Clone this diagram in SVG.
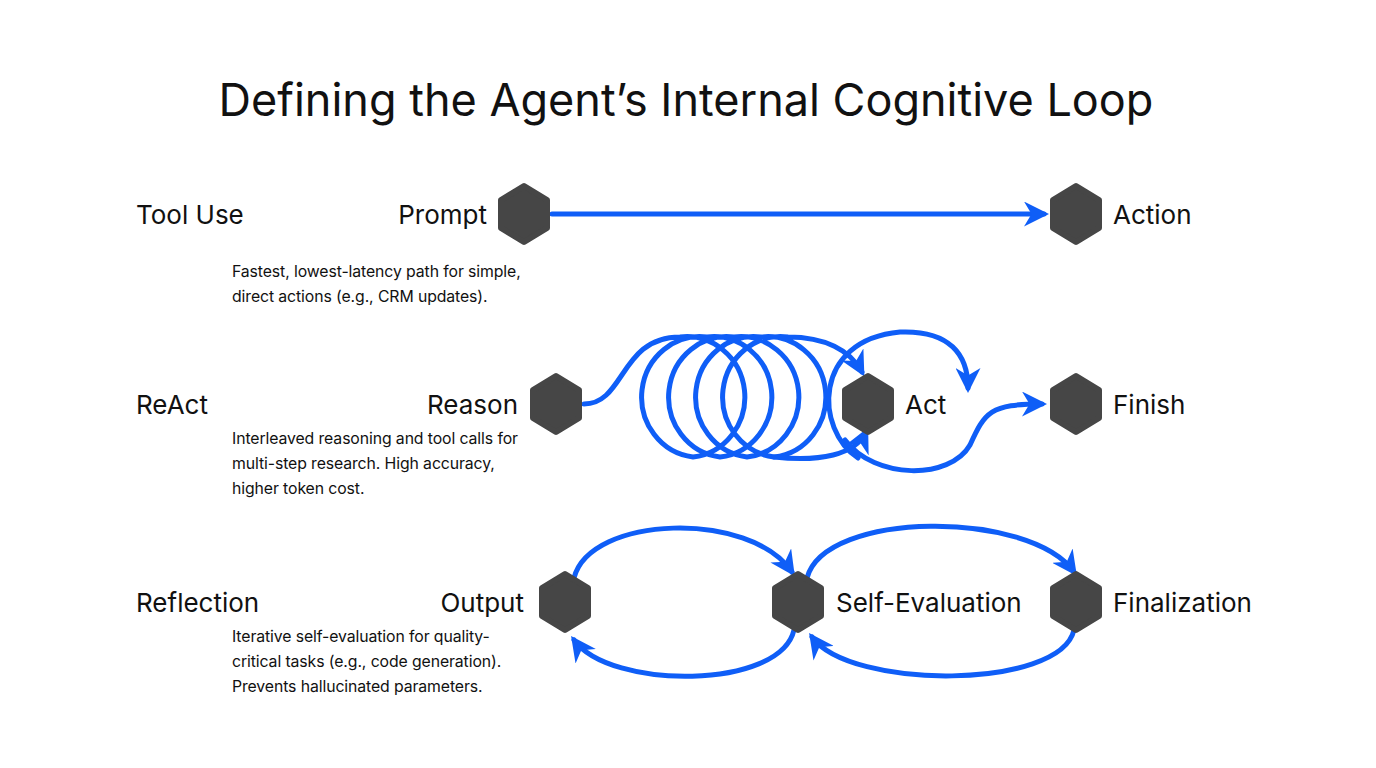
<svg xmlns="http://www.w3.org/2000/svg" width="1376" height="768" viewBox="0 0 1376 768">
<defs>
<marker id="ah" viewBox="0 0 10 10" refX="8" refY="5" markerWidth="5" markerHeight="5" orient="auto" markerUnits="strokeWidth"><path d="M0,0 L10,5 L0,10 L3,5 z" fill="#0f5ef7"/></marker>
<path id="hex" d="M0,-28 L23,-14 L23,14 L0,28 L-23,14 L-23,-14 Z" fill="#464646" stroke="#464646" stroke-width="6" stroke-linejoin="round"/>
</defs>
<style>
.t{font-family:Inter,"Liberation Sans",sans-serif;fill:#111}
.h{font-size:45px}
.l{font-size:26px}
.d{font-size:15.8px;letter-spacing:-0.1px}
.c{fill:none;stroke:#0f5ef7;stroke-width:5;stroke-linecap:round}
</style>
<rect width="1376" height="768" fill="#fff"/>
<text class="t h" x="686" y="116" text-anchor="middle">Defining the Agent’s Internal Cognitive Loop</text>
<g id="labels">
<text class="t l" x="136" y="224">Tool Use</text>
<text class="t l" x="136" y="414">ReAct</text>
<text class="t l" x="136" y="612">Reflection</text>
<text class="t d" x="232" y="277">Fastest, lowest-latency path for simple,</text>
<text class="t d" x="232" y="302">direct actions (e.g., CRM updates).</text>
<text class="t d" x="232" y="444">Interleaved reasoning and tool calls for</text>
<text class="t d" x="232" y="469">multi-step research. High accuracy,</text>
<text class="t d" x="232" y="494">higher token cost.</text>
<text class="t d" x="232" y="642">Iterative self-evaluation for quality-</text>
<text class="t d" x="232" y="667">critical tasks (e.g., code generation).</text>
<text class="t d" x="232" y="692">Prevents hallucinated parameters.</text>
</g>
<g id="connectors">
<path class="c" d="M552 214 L1044 214" marker-end="url(#ah)"/>
<path class="c" d="M584 404 C625 404 620 337 680 337 A58 60 0 0 1 693 457 A58 60 0 0 1 707 337 A58 60 0 0 1 720 457 A58 60 0 0 1 734 337 A58 60 0 0 1 747 457 A58 60 0 0 1 761 337 A58 60 0 0 1 774 457 A58 60 0 0 1 788 337 C825 337 850 350 862 372" marker-end="url(#ah)"/>
<path class="c" d="M774 457 C820 462 855 455 866 432" marker-end="url(#ah)"/>
<path class="c" d="M858 458 C815 430 812 340 900 332 C950 330 968 355 968 388" marker-end="url(#ah)"/>
<path class="c" d="M845 440 C875 480 950 480 970 445 C985 412 990 404 1042 404" marker-end="url(#ah)"/>
<path class="c" d="M574 578 C590 515 750 510 792 572" marker-end="url(#ah)"/>
<path class="c" d="M794 630 C780 690 610 690 574 640" marker-end="url(#ah)"/>
<path class="c" d="M807 578 C825 510 1030 510 1074 572" marker-end="url(#ah)"/>
<path class="c" d="M1074 630 C1060 690 850 690 812 637" marker-end="url(#ah)"/>
</g>
<g id="n-prompt"><use href="#hex" x="524" y="214"/><text class="t l" x="487" y="224" text-anchor="end">Prompt</text></g>
<g id="n-action"><use href="#hex" x="1076" y="214"/><text class="t l" x="1113" y="224">Action</text></g>
<g id="n-reason"><use href="#hex" x="556" y="404"/><text class="t l" x="518" y="414" text-anchor="end">Reason</text></g>
<g id="n-act"><use href="#hex" x="868" y="404"/><text class="t l" x="905" y="414">Act</text></g>
<g id="n-finish"><use href="#hex" x="1076" y="404"/><text class="t l" x="1113" y="414">Finish</text></g>
<g id="n-output"><use href="#hex" x="565" y="602"/><text class="t l" x="524" y="612" text-anchor="end">Output</text></g>
<g id="n-selfeval"><use href="#hex" x="798" y="602"/><text class="t l" x="836" y="612">Self-Evaluation</text></g>
<g id="n-final"><use href="#hex" x="1076" y="602"/><text class="t l" x="1113" y="612">Finalization</text></g>
</svg>
